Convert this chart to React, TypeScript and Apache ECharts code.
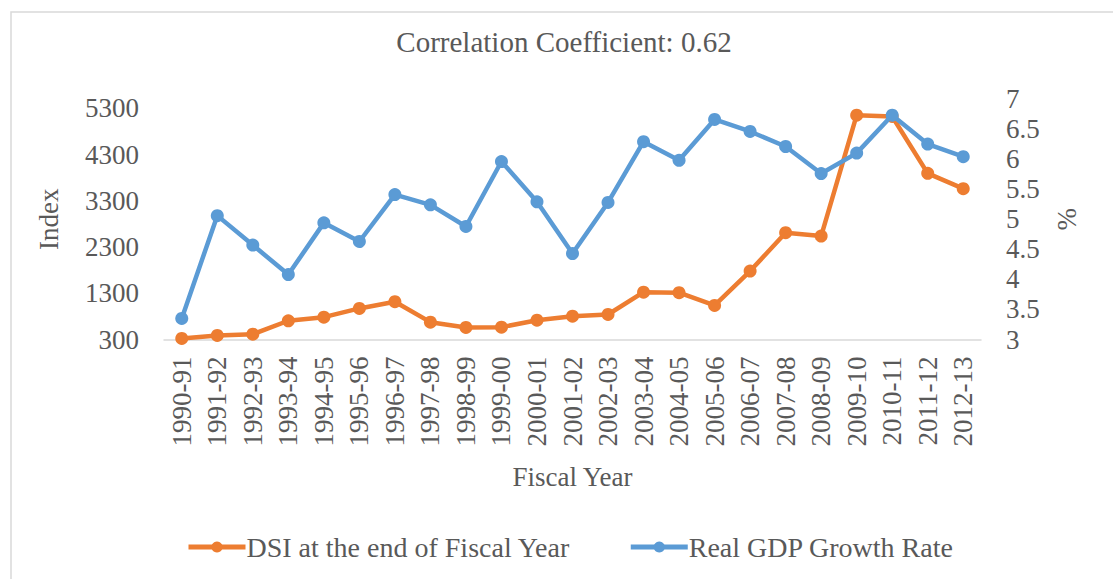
import React, { useEffect, useRef } from "react";
import * as echarts from "echarts";

const categories = [
  "1990-91", "1991-92", "1992-93", "1993-94", "1994-95", "1995-96", "1996-97", "1997-98",
  "1998-99", "1999-00", "2000-01", "2001-02", "2002-03", "2003-04", "2004-05", "2005-06",
  "2006-07", "2007-08", "2008-09", "2009-10", "2010-11", "2011-12", "2012-13",
];

const dsiValues = [
  322, 387, 415, 705, 783, 972, 1117, 675, 560, 567, 718, 805, 841, 1324, 1311, 1036,
  1779, 2610, 2537, 5150, 5122, 3893, 3562,
];

const gdpValues = [
  3.35, 5.06, 4.57, 4.08, 4.94, 4.63, 5.41, 5.24, 4.88, 5.96, 5.29, 4.43, 5.28, 6.29,
  5.98, 6.66, 6.46, 6.21, 5.76, 6.1, 6.73, 6.25, 6.04,
];

const titleText = "Correlation Coefficient: 0.62";
const FONT = "Liberation Serif";
const TEXT = "#595959";

export default function App() {
  const ref = useRef<HTMLDivElement>(null);
  useEffect(() => {
    document.body.style.margin = "0";
    const chart = echarts.init(ref.current!, null, { renderer: "svg" });
    chart.setOption({
      animation: false,
      backgroundColor: "#ffffff",
      textStyle: { fontFamily: FONT, color: TEXT },
      graphic: [
        {
          type: "rect",
          shape: { x: 11, y: 12, width: 1300, height: 800 },
          style: { fill: "none", stroke: "#D9D9D9", lineWidth: 1.5 },
          silent: true,
        },
        {
          type: "text",
          x: 564,
          y: 42,
          style: {
            text: titleText,
            fontFamily: FONT,
            fontSize: 29,
            fill: TEXT,
            textAlign: "center",
            textVerticalAlign: "middle",
          },
        },
      ],
      legend: {
        left: 186,
        top: 533,
        padding: 0,
        itemWidth: 57,
        itemHeight: 14,
        itemGap: 58,
        lineStyle: { width: 5 },
        textStyle: { fontFamily: FONT, fontSize: 28, color: TEXT, padding: [0, 0, 0, -4] },
        data: ["DSI at the end of Fiscal Year", "Real GDP Growth Rate"],
      },
      grid: { left: 164, right: 132, top: 99, bottom: 239.5, containLabel: false },
      xAxis: {
        type: "category",
        data: categories,
        boundaryGap: true,
        axisLine: { show: true, lineStyle: { color: "#D9D9D9", width: 1.5 } },
        axisTick: { show: false },
        axisLabel: {
          interval: 0,
          rotate: 90,
          margin: 17,
          fontFamily: FONT,
          fontSize: 27,
          color: TEXT,
        },
        name: "Fiscal Year",
        nameLocation: "middle",
        nameGap: 124,
        nameTextStyle: { fontFamily: FONT, fontSize: 27, color: TEXT },
      },
      yAxis: [
        {
          type: "value",
          min: 300,
          max: 5500,
          interval: 1000,
          splitLine: { show: false },
          axisLine: { show: false },
          axisTick: { show: false },
          axisLabel: {
            showMaxLabel: false,
            margin: 25,
            fontFamily: FONT,
            fontSize: 27,
            color: TEXT,
            formatter: (v: number) => String(v),
          },
          name: "Index",
          nameLocation: "middle",
          nameGap: 102,
          nameTextStyle: { fontFamily: FONT, fontSize: 27, color: TEXT },
        },
        {
          type: "value",
          min: 3,
          max: 7,
          interval: 0.5,
          position: "right",
          splitLine: { show: false },
          axisLine: { show: false },
          axisTick: { show: false },
          axisLabel: {
            margin: 25,
            fontFamily: FONT,
            fontSize: 27,
            color: TEXT,
            formatter: (v: number) => String(v),
          },
          name: "%",
          nameLocation: "middle",
          nameGap: 72,
          nameTextStyle: { fontFamily: FONT, fontSize: 27, color: TEXT },
        },
      ],
      series: [
        {
          name: "DSI at the end of Fiscal Year",
          type: "line",
          yAxisIndex: 0,
          data: dsiValues,
          color: "#ED7D31",
          lineStyle: { width: 4.5, color: "#ED7D31" },
          itemStyle: { color: "#ED7D31" },
          symbol: "circle",
          symbolSize: 13,
          z: 3,
        },
        {
          name: "Real GDP Growth Rate",
          type: "line",
          yAxisIndex: 1,
          data: gdpValues,
          color: "#5B9BD5",
          lineStyle: { width: 4.5, color: "#5B9BD5" },
          itemStyle: { color: "#5B9BD5" },
          symbol: "circle",
          symbolSize: 13,
          z: 4,
        },
      ],
    });
    return () => chart.dispose();
  }, []);
  return (
    <div
      ref={ref}
      style={{ position: "fixed", left: 0, top: 0, width: 1113, height: 579 }}
    />
  );
}
